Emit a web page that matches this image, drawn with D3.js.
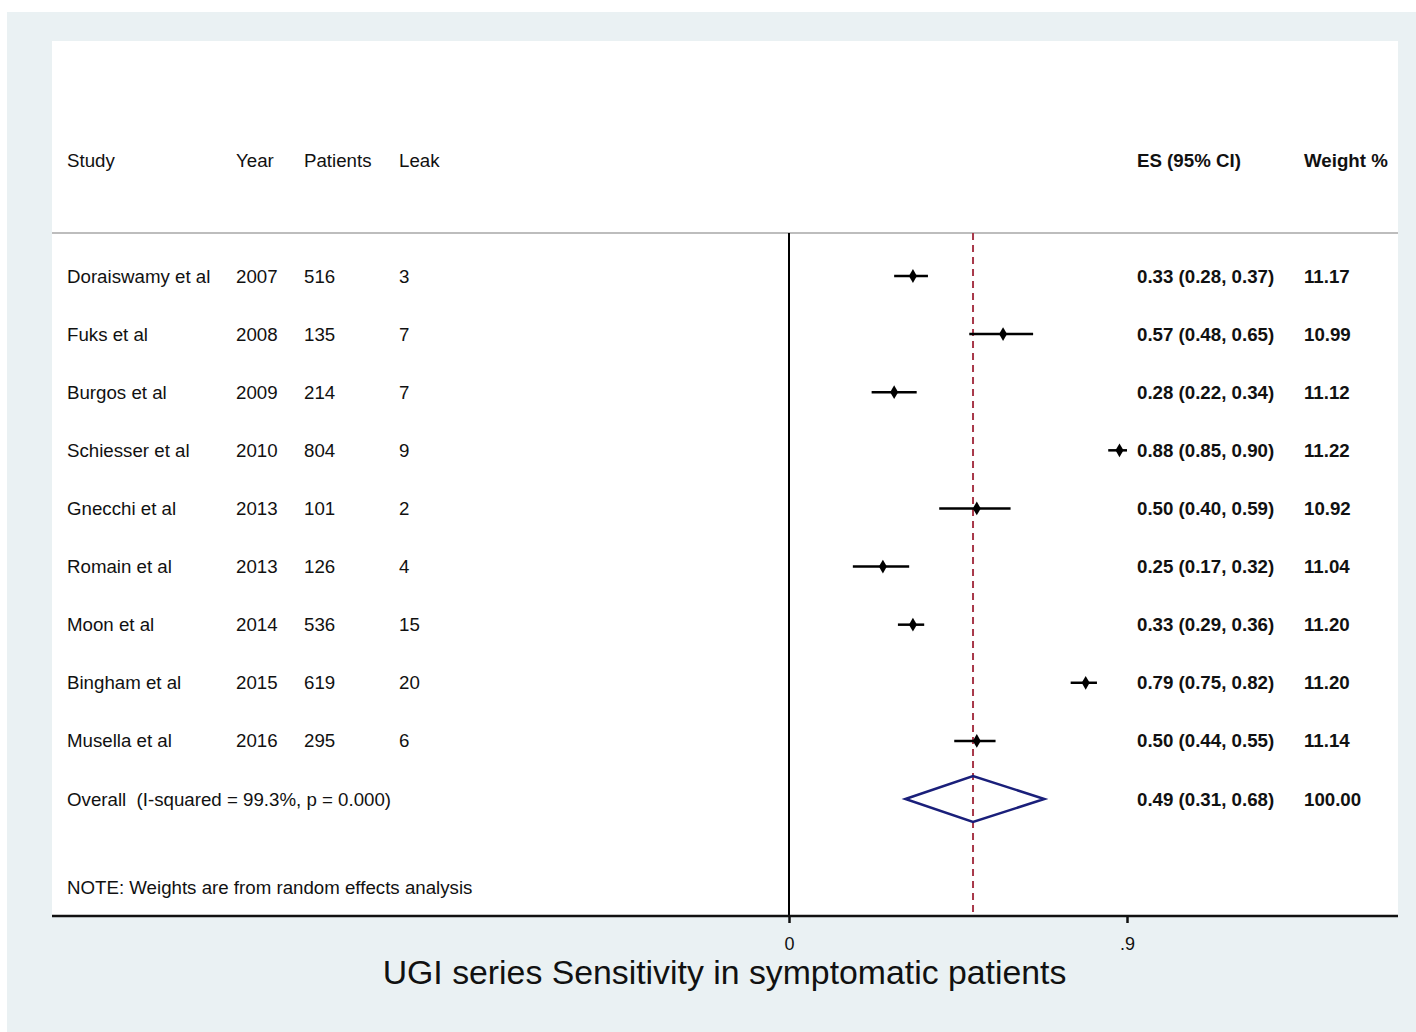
<!DOCTYPE html>
<html>
<head>
<meta charset="utf-8">
<script src="https://cdn.jsdelivr.net/npm/d3@7"></script>
<style>
  body { margin: 0; background: #fff; }
  text { font-family: "Liberation Sans", Arial, sans-serif; fill: #111; }
</style>
</head>
<body>
<div id="chart"></div>
<script>
// study table
var studies = ["Doraiswamy et al", "Fuks et al", "Burgos et al", "Schiesser et al", "Gnecchi et al",
  "Romain et al", "Moon et al", "Bingham et al", "Musella et al"];
var years = ["2007", "2008", "2009", "2010", "2013", "2013", "2014", "2015", "2016"];
var patients = ["516", "135", "214", "804", "101", "126", "536", "619", "295"];
var leaks = ["3", "7", "7", "9", "2", "4", "15", "20", "6"];
var es = [0.33, 0.57, 0.28, 0.88, 0.50, 0.25, 0.33, 0.79, 0.50];
var lower = [0.28, 0.48, 0.22, 0.85, 0.40, 0.17, 0.29, 0.75, 0.44];
var upper = [0.37, 0.65, 0.34, 0.90, 0.59, 0.32, 0.36, 0.82, 0.55];
var weights = ["11.17", "10.99", "11.12", "11.22", "10.92", "11.04", "11.20", "11.20", "11.14"];

var overall = { es: 0.49, lower: 0.31, upper: 0.68, weight: "100.00" };
var overallLabel = "Overall  (I-squared = 99.3%, p = 0.000)";
var note = "NOTE: Weights are from random effects analysis";
var xTicks = [0, 0.9];
var title = "UGI series Sensitivity in symptomatic patients";

var w = 1416;
var h = 1032;

var svg = d3.select("#chart")
  .append("svg")
  .attr("width", w)
  .attr("height", h);

// outer background + plot panel
svg.append("rect")
  .attr("x", 7).attr("y", 12)
  .attr("width", w - 7).attr("height", h - 12)
  .attr("fill", "#eaf1f3");

var panel = { left: 52, right: 1398, top: 41, bottom: 916 };
svg.append("rect")
  .attr("x", panel.left).attr("y", panel.top)
  .attr("width", panel.right - panel.left)
  .attr("height", panel.bottom - panel.top)
  .attr("fill", "#fff");

var xScale = d3.scaleLinear()
  .domain([0, 0.9])
  .range([789, 1127]);

var rows = studies.concat(["Overall"]);
var yScale = d3.scalePoint()
  .domain(rows)
  .range([276, 799]);

var headerY = 160;
var lineTop = 233;
var fontSize = "18.7px";

// header
var headers = [
  { t: "Study", x: 67, bold: false },
  { t: "Year", x: 236, bold: false },
  { t: "Patients", x: 304, bold: false },
  { t: "Leak", x: 399, bold: false },
  { t: "ES (95% CI)", x: 1137, bold: true },
  { t: "Weight %", x: 1304, bold: true }
];
svg.selectAll(".hdr")
  .data(headers)
  .enter()
  .append("text")
  .attr("class", "hdr")
  .attr("x", function(d) { return d.x; })
  .attr("y", headerY)
  .attr("dy", "0.35em")
  .attr("font-size", fontSize)
  .attr("font-weight", function(d) { return d.bold ? "bold" : "normal"; })
  .text(function(d) { return d.t; });

svg.append("line")
  .attr("x1", panel.left).attr("x2", panel.right)
  .attr("y1", lineTop).attr("y2", lineTop)
  .attr("stroke", "#bdbdbd")
  .attr("stroke-width", 2);

// text columns
var cols = [
  { vals: studies, x: 67, bold: false },
  { vals: years, x: 236, bold: false },
  { vals: patients, x: 304, bold: false },
  { vals: leaks, x: 399, bold: false },
  { vals: es.map(function(d, i) {
      return d.toFixed(2) + " (" + lower[i].toFixed(2) + ", " + upper[i].toFixed(2) + ")";
    }), x: 1137, bold: true },
  { vals: weights, x: 1304, bold: true }
];
cols.forEach(function(c) {
  svg.append("g")
    .selectAll("text")
    .data(c.vals)
    .enter()
    .append("text")
    .attr("x", c.x)
    .attr("y", function(d, i) { return yScale(studies[i]); })
    .attr("dy", "0.35em")
    .attr("font-size", fontSize)
    .attr("font-weight", c.bold ? "bold" : "normal")
    .text(function(d) { return d; });
});

// overall row text
var yo = yScale("Overall");
svg.append("text")
  .attr("x", 67).attr("y", yo).attr("dy", "0.35em")
  .attr("font-size", fontSize)
  .attr("xml:space", "preserve")
  .style("white-space", "pre")
  .text(overallLabel);
svg.append("text")
  .attr("x", 1137).attr("y", yo).attr("dy", "0.35em")
  .attr("font-size", fontSize).attr("font-weight", "bold")
  .text(overall.es.toFixed(2) + " (" + overall.lower.toFixed(2) + ", " + overall.upper.toFixed(2) + ")");
svg.append("text")
  .attr("x", 1304).attr("y", yo).attr("dy", "0.35em")
  .attr("font-size", fontSize).attr("font-weight", "bold")
  .text(overall.weight);

svg.append("text")
  .attr("x", 67).attr("y", 887).attr("dy", "0.35em")
  .attr("font-size", fontSize)
  .text(note);

// null line at 0
svg.append("line")
  .attr("x1", xScale(0)).attr("x2", xScale(0))
  .attr("y1", lineTop).attr("y2", panel.bottom)
  .attr("stroke", "#000")
  .attr("stroke-width", 2);

// overall dashed line
svg.append("line")
  .attr("x1", xScale(overall.es)).attr("x2", xScale(overall.es))
  .attr("y1", lineTop).attr("y2", panel.bottom)
  .attr("stroke", "#a8384a")
  .attr("stroke-width", 2)
  .attr("stroke-dasharray", "7,5");

// confidence intervals
svg.selectAll(".ci")
  .data(studies)
  .enter()
  .append("line")
  .attr("class", "ci")
  .attr("x1", function(d, i) { return xScale(lower[i]); })
  .attr("x2", function(d, i) { return xScale(upper[i]); })
  .attr("y1", function(d) { return yScale(d); })
  .attr("y2", function(d) { return yScale(d); })
  .attr("stroke", "#000")
  .attr("stroke-width", 2.5);

svg.selectAll(".pt")
  .data(studies)
  .enter()
  .append("path")
  .attr("class", "pt")
  .attr("d", d3.symbol().type(d3.symbolDiamond).size(55))
  .attr("transform", function(d, i) {
    return "translate(" + xScale(es[i]) + "," + yScale(d) + ")";
  })
  .attr("fill", "#000");

// overall diamond
var dh = 23;
var diamond = [
  [xScale(overall.lower), yo],
  [xScale(overall.es), yo - dh],
  [xScale(overall.upper), yo],
  [xScale(overall.es), yo + dh]
];
svg.append("path")
  .attr("d", "M" + diamond.join("L") + "Z")
  .attr("fill", "none")
  .attr("stroke", "#1a1f7a")
  .attr("stroke-width", 2.5);

// x axis
svg.append("line")
  .attr("x1", panel.left).attr("x2", panel.right)
  .attr("y1", panel.bottom).attr("y2", panel.bottom)
  .attr("stroke", "#111")
  .attr("stroke-width", 2.5);

var xAxis = svg.append("g")
  .attr("transform", "translate(0," + panel.bottom + ")")
  .call(d3.axisBottom(xScale)
    .tickValues(xTicks)
    .tickSize(7)
    .tickPadding(14)
    .tickFormat(function(d) { return d === 0 ? "0" : d3.format(".1f")(d).replace(/^0/, ""); }));
xAxis.select(".domain").remove();
xAxis.selectAll(".tick line").attr("stroke", "#111").attr("stroke-width", 2.5);
xAxis.selectAll(".tick text")
  .attr("font-size", "18px")
  .attr("font-family", "Liberation Sans, Arial, sans-serif")
  .attr("fill", "#111");

// title
svg.append("text")
  .attr("x", 724.5)
  .attr("y", 984)
  .attr("text-anchor", "middle")
  .attr("font-size", "33.8px")
  .attr("fill", "#111")
  .text(title);
</script>
</body>
</html>
